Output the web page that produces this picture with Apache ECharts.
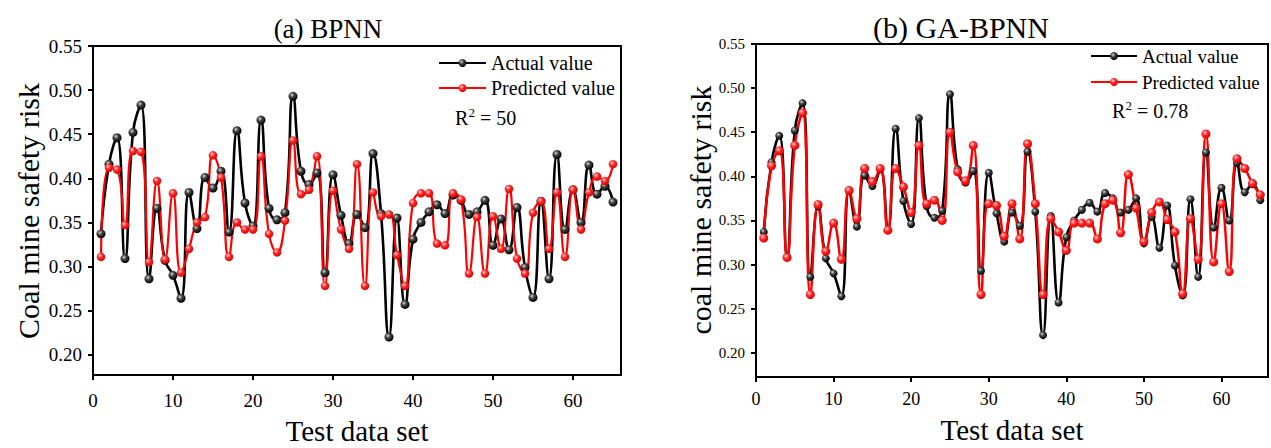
<!DOCTYPE html>
<html>
<head>
<meta charset="utf-8">
<script src="https://cdn.jsdelivr.net/npm/echarts@6/dist/echarts.min.js"></script>
<style>
html,body{margin:0;padding:0;background:#fff;}
#chart{width:1271px;height:448px;}
</style>
</head>
<body>
<div id="chart"></div>
<script>
// ---- data ----
const testIndex = [1,2,3,4,5,6,7,8,9,10,11,12,13,14,15,16,17,18,19,20,21,22,23,24,25,26,27,28,29,30,31,32,33,34,35,36,37,38,39,40,41,42,43,44,45,46,47,48,49,50,51,52,53,54,55,56,57,58,59,60,61,62,63,64,65];
const actualValue = [0.337,0.416,0.446,0.309,0.452,0.483,0.286,0.366,0.307,0.290,0.264,0.384,0.343,0.401,0.389,0.408,0.339,0.454,0.372,0.346,0.466,0.366,0.353,0.361,0.493,0.408,0.393,0.406,0.293,0.404,0.358,0.326,0.359,0.344,0.428,0.360,0.220,0.355,0.257,0.331,0.350,0.362,0.370,0.360,0.381,0.375,0.359,0.362,0.375,0.324,0.354,0.319,0.367,0.299,0.265,0.374,0.286,0.427,0.342,0.387,0.350,0.415,0.382,0.391,0.373];
const bpnnPredicted = [0.311,0.412,0.410,0.347,0.431,0.430,0.305,0.397,0.308,0.383,0.293,0.320,0.350,0.356,0.426,0.401,0.311,0.350,0.342,0.342,0.425,0.337,0.316,0.352,0.443,0.382,0.387,0.425,0.278,0.386,0.342,0.320,0.416,0.278,0.384,0.357,0.359,0.313,0.278,0.372,0.383,0.383,0.326,0.324,0.383,0.376,0.292,0.356,0.292,0.357,0.320,0.388,0.309,0.292,0.361,0.374,0.320,0.384,0.311,0.387,0.342,0.384,0.402,0.397,0.416];
const gaPredicted = [0.330,0.412,0.429,0.308,0.435,0.472,0.266,0.368,0.315,0.347,0.306,0.384,0.352,0.409,0.394,0.409,0.339,0.409,0.388,0.359,0.435,0.369,0.373,0.350,0.450,0.405,0.395,0.435,0.266,0.369,0.367,0.332,0.369,0.329,0.437,0.369,0.266,0.352,0.337,0.316,0.347,0.347,0.347,0.329,0.369,0.373,0.336,0.402,0.364,0.326,0.359,0.371,0.351,0.337,0.267,0.352,0.306,0.448,0.303,0.369,0.292,0.420,0.409,0.392,0.379];
const yTicks = [0.20,0.25,0.30,0.35,0.40,0.45,0.50,0.55];
const xTicks = [0,10,20,30,40,50,60];
const panelTitles = ['(a) BPNN','(b) GA-BPNN'];
const yNames = ['Coal mine safety risk','coal mine safety risk'];
const xName = 'Test data set';
const r2Values = ['50','0.78'];
const legendNames = ['Actual value','Predicted value'];

const FONT = '"Liberation Serif","Times New Roman",serif';
const pairs = (ys) => testIndex.map((x,i)=>[x, ys[i]]);

const blackBall = {type:'radial',x:0.38,y:0.35,r:0.65,colorStops:[{offset:0,color:'#d8d8d8'},{offset:0.4,color:'#444'},{offset:1,color:'#000'}]};
const redBall = {type:'radial',x:0.38,y:0.35,r:0.65,colorStops:[{offset:0,color:'#ffd6d6'},{offset:0.45,color:'#ff2a2a'},{offset:1,color:'#e00000'}]};

function xAxisCfg(gi, fs, margin){
  return {type:'value', gridIndex:gi, min:0, max:66,
    axisLine:{show:true, lineStyle:{color:'#000', width:2}},
    axisTick:{show:true, inside:false, length:5, lineStyle:{color:'#000', width:2}, customValues: xTicks},
    axisLabel:{color:'#000', fontFamily:FONT, fontSize:fs, margin:margin, customValues: xTicks},
    splitLine:{show:false}};
}
function yAxisCfg(gi, min, fs, margin){
  return {type:'value', gridIndex:gi, min:min, max:0.55,
    axisLine:{show:true, lineStyle:{color:'#000', width:2}},
    axisTick:{show:true, inside:false, length:5, lineStyle:{color:'#000', width:2}, customValues: yTicks},
    axisLabel:{color:'#000', fontFamily:FONT, fontSize:fs, margin:margin, customValues: yTicks, formatter:(v)=>v.toFixed(2)},
    splitLine:{show:false}};
}
function lineSeries(name, xi, ys, color, ball, size, width){
  return {name:name, type:'line', xAxisIndex:xi, yAxisIndex:xi, data:pairs(ys), smooth:0.5,
    symbol:'circle', symbolSize:size, showSymbol:true,
    lineStyle:{color:color, width:width},
    itemStyle:{color:ball, borderWidth:0},
    emphasis:{disabled:true}, animation:false};
}

const chart = echarts.init(document.getElementById('chart'), null, {renderer:'svg'});
chart.setOption({
  backgroundColor:'#fff',
  animation:false,
  grid:[
    {left:93, top:46, width:528, height:329, show:true, borderColor:'#000', borderWidth:2, backgroundColor:'transparent'},
    {left:756, top:44, width:512, height:333, show:true, borderColor:'#000', borderWidth:2, backgroundColor:'transparent'}
  ],
  xAxis:[xAxisCfg(0,19,16), xAxisCfg(1,18,13)],
  yAxis:[yAxisCfg(0,0.177,19,11), yAxisCfg(1,0.1725,15,11)],
  legend:[
    {left:433, top:48, orient:'vertical', itemWidth:47, itemHeight:10, itemGap:5, data:legendNames,
      textStyle:{fontFamily:FONT, fontSize:20, color:'#000', lineHeight:20}, selectedMode:false},
    {left:1085, top:41, orient:'vertical', itemWidth:46, itemHeight:10, itemGap:6, data:legendNames,
      textStyle:{fontFamily:FONT, fontSize:19, color:'#000', lineHeight:20}, selectedMode:false}
  ],
  series:[
    lineSeries(legendNames[0],0,actualValue,'#000',blackBall,9,2.6),
    lineSeries(legendNames[1],0,bpnnPredicted,'#ff0000',redBall,8.5,2.2),
    lineSeries(legendNames[0],1,actualValue,'#000',blackBall,8,2.6),
    lineSeries(legendNames[1],1,gaPredicted,'#ff0000',redBall,9,2.5)
  ],
  graphic:[
    {type:'text', x:328, y:29, style:{text:panelTitles[0], font:'27px '+FONT, fill:'#000', textAlign:'center', textVerticalAlign:'middle'}},
    {type:'text', x:961, y:27, style:{text:panelTitles[1], font:'30px '+FONT, fill:'#000', textAlign:'center', textVerticalAlign:'middle'}},
    {type:'text', x:28, y:211, rotation:Math.PI/2, style:{text:yNames[0], font:'30px '+FONT, fill:'#000', textAlign:'center', textVerticalAlign:'middle'}},
    {type:'text', x:700, y:210, rotation:Math.PI/2, style:{text:yNames[1], font:'30px '+FONT, fill:'#000', textAlign:'center', textVerticalAlign:'middle'}},
    {type:'text', x:357, y:431, style:{text:xName, font:'29px '+FONT, fill:'#000', textAlign:'center', textVerticalAlign:'middle'}},
    {type:'text', x:1012, y:430, style:{text:xName, font:'29px '+FONT, fill:'#000', textAlign:'center', textVerticalAlign:'middle'}},
    {type:'text', x:455, y:118, style:{text:'R', font:'20px '+FONT, fill:'#000', textAlign:'left', textVerticalAlign:'middle'}},
    {type:'text', x:468.5, y:112, style:{text:'2', font:'13px '+FONT, fill:'#000', textAlign:'left', textVerticalAlign:'middle'}},
    {type:'text', x:475, y:118, style:{text:' = '+r2Values[0], font:'20px '+FONT, fill:'#000', textAlign:'left', textVerticalAlign:'middle'}},
    {type:'text', x:1112, y:111, style:{text:'R', font:'20px '+FONT, fill:'#000', textAlign:'left', textVerticalAlign:'middle'}},
    {type:'text', x:1125.5, y:105, style:{text:'2', font:'13px '+FONT, fill:'#000', textAlign:'left', textVerticalAlign:'middle'}},
    {type:'text', x:1132, y:111, style:{text:' = '+r2Values[1], font:'20px '+FONT, fill:'#000', textAlign:'left', textVerticalAlign:'middle'}}
  ]
});
</script>
</body>
</html>
